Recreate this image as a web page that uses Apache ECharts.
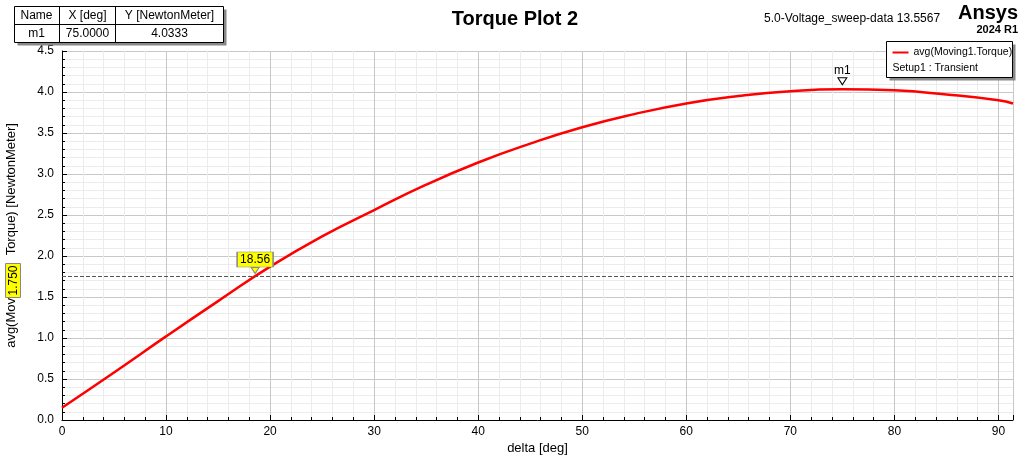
<!DOCTYPE html>
<html><head><meta charset="utf-8">
<script src="https://cdn.jsdelivr.net/npm/echarts@6/dist/echarts.min.js"></script>
<style>html,body{margin:0;padding:0;background:#fff}#c{width:1024px;height:455px}</style>
</head><body><div id="c"></div>
<script>
const xDeg = [0,5,10,15,20,25,30,35,40,45,50,55,60,65,70,75,80,85,90,91.4];
const torque = [0.15,0.58,1.02,1.45,1.87,2.24,2.56,2.87,3.14,3.37,3.57,3.73,3.86,3.95,4.01,4.0333,4.02,3.97,3.90,3.86];
const markerX = 75, markerY = 4.0333;
const cutY = 1.75, cutX = 18.56;
const F = 'Liberation Sans, Arial, sans-serif';
const chart = echarts.init(document.getElementById('c'));
chart.setOption({
  animation:false,
  title:{text:'Torque Plot 2',left:510,top:4,textAlign:'center',textStyle:{fontFamily:F,fontSize:20,fontWeight:'bold',color:'#000'}},
  grid:{left:62,right:11,top:51,bottom:35,containLabel:false,outerBoundsMode:'none'},
  xAxis:{type:'value',min:0,max:91.4,interval:10,name:'delta [deg]',nameLocation:'middle',nameGap:22,nameMoveOverlap:false,
    nameTextStyle:{fontFamily:F,fontSize:13,color:'#000'},
    axisLine:{lineStyle:{color:'#000'}},axisTick:{inside:true,length:5,lineStyle:{color:'#000'}},
    minorTick:{show:true,splitNumber:5,length:3,lineStyle:{color:'#000'}},
    axisLabel:{fontFamily:F,fontSize:12,color:'#000',showMaxLabel:false,margin:6},
    splitLine:{show:true,lineStyle:{color:'#c8c8c8'}},minorSplitLine:{show:true,lineStyle:{color:'#ececec'}}},
  yAxis:{type:'value',min:0,max:4.5,interval:0.5,name:'avg(Movin         Torque) [NewtonMeter]',nameLocation:'middle',nameGap:44,nameMoveOverlap:false,
    nameTextStyle:{fontFamily:F,fontSize:13,color:'#000'},
    axisLine:{show:true,lineStyle:{color:'#000'}},axisTick:{inside:true,length:5,lineStyle:{color:'#000'}},
    minorTick:{show:true,splitNumber:5,length:3,lineStyle:{color:'#000'}},
    axisLabel:{fontFamily:F,fontSize:12,color:'#000',formatter:v=>v.toFixed(1)},
    splitLine:{show:true,lineStyle:{color:'#c8c8c8'}},minorSplitLine:{show:true,lineStyle:{color:'#ececec'}}},
  series:[{type:'line',data:xDeg.map((x,i)=>[x,torque[i]]),smooth:true,showSymbol:false,
    lineStyle:{color:'#ff0000',width:2.5},
    markLine:{silent:true,symbol:'none',lineStyle:{color:'#555',type:'dashed',width:1},label:{show:false},
      data:[{yAxis:cutY}]},
    markPoint:{symbol:'triangle',symbolRotate:180,symbolSize:[9,7],symbolOffset:[0,-8],
      itemStyle:{color:'#fff',borderColor:'#000',borderWidth:1},
      label:{show:true,position:'top',distance:1,formatter:'m1',fontFamily:F,fontSize:12,color:'#000'},
      data:[{coord:[markerX,markerY]},
        {coord:[cutX,cutY],symbol:'rect',symbolRotate:0,symbolSize:[36,15],symbolOffset:[0,-17],
         itemStyle:{color:'#ffff00',borderColor:'#888'},label:{position:'inside',formatter:String(cutX),fontSize:12}},
        {coord:[cutX,cutY],symbol:'triangle',symbolRotate:180,symbolSize:[8,6],symbolOffset:[0,-6],
         itemStyle:{color:'#ffff00',borderColor:'#888'},label:{show:false}}]}
  }],
  graphic:[
    {type:'group',left:12,top:4,children:[
      {type:'rect',z:100,shape:{x:3,y:3,width:209,height:36},style:{fill:'#888'}},
      {type:'rect',z:101,shape:{x:0,y:0,width:209,height:36},style:{fill:'#fff',stroke:'#000',lineWidth:1}},
      {type:'line',z:102,shape:{x1:0,y1:18,x2:209,y2:18},style:{stroke:'#000'}},
      {type:'line',z:102,shape:{x1:45,y1:0,x2:45,y2:36},style:{stroke:'#000'}},
      {type:'line',z:102,shape:{x1:101,y1:0,x2:101,y2:36},style:{stroke:'#000'}},
      {type:'text',z:103,x:22,y:9,style:{text:'Name',font:'12px '+F,align:'center',verticalAlign:'middle'}},
      {type:'text',z:103,x:73,y:9,style:{text:'X [deg]',font:'12px '+F,align:'center',verticalAlign:'middle'}},
      {type:'text',z:103,x:155,y:9,style:{text:'Y [NewtonMeter]',font:'12px '+F,align:'center',verticalAlign:'middle'}},
      {type:'text',z:103,x:22,y:27,style:{text:'m1',font:'12px '+F,align:'center',verticalAlign:'middle'}},
      {type:'text',z:103,x:73,y:27,style:{text:'75.0000',font:'12px '+F,align:'center',verticalAlign:'middle'}},
      {type:'text',z:103,x:155,y:27,style:{text:'4.0333',font:'12px '+F,align:'center',verticalAlign:'middle'}}
    ]},
    {type:'text',left:764,top:13,style:{text:'5.0-Voltage_sweep-data 13.5567',font:'12px '+F,fill:'#000'}},
    {type:'text',right:6,top:3,style:{text:'Ansys',font:'bold 20px '+F,fill:'#000'}},
    {type:'text',right:6,top:24,style:{text:'2024 R1',font:'bold 11px '+F,fill:'#000'}},
    {type:'group',left:886,top:41,children:[
      {type:'rect',z:100,shape:{x:3,y:3,width:126,height:36},style:{fill:'#888'}},
      {type:'rect',z:101,shape:{x:0,y:0,width:126,height:36},style:{fill:'#ffffff',stroke:'#000',lineWidth:1}},
      {type:'line',z:102,shape:{x1:6,y1:11,x2:22,y2:11},style:{stroke:'#ff0000',lineWidth:2}},
      {type:'text',z:103,x:27,y:11,style:{text:'avg(Moving1.Torque)',font:'10.5px '+F,fill:'#000',verticalAlign:'middle'}},
      {type:'text',z:103,x:6,y:27,style:{text:'Setup1 : Transient',font:'10.5px '+F,fill:'#000',verticalAlign:'middle'}}
    ]},
    {type:'group',left:5,top:263,children:[
      {type:'rect',z:100,shape:{x:0,y:0,width:15,height:34},style:{fill:'#ffff00',stroke:'#888'}},
      {type:'text',z:101,x:8,y:17,rotation:Math.PI/2,style:{text:'1.750',font:'12px '+F,align:'center',verticalAlign:'middle'}}
    ]}
  ]
});
</script></body></html>
